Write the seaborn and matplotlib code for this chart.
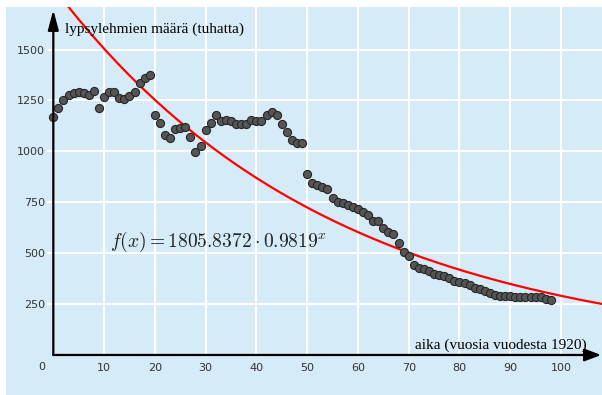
import numpy as np
import pandas as pd
import matplotlib
matplotlib.use("Agg")
import matplotlib.pyplot as plt
import seaborn as sns

# ---- data ----
years = list(range(0, 99))
cows = [1167, 1214, 1252, 1275, 1287, 1293, 1287, 1277, 1298, 1214,
        1265, 1290, 1290, 1264, 1255, 1272, 1293, 1337, 1362, 1373,
        1177, 1139, 1079, 1067, 1112, 1117, 1122, 1071, 999, 1025,
        1107, 1139, 1177, 1151, 1154, 1151, 1133, 1134, 1132, 1152,
        1151, 1149, 1179, 1194, 1180, 1135, 1094, 1056, 1039, 1043,
        887, 846, 833, 823, 815, 770, 753, 746, 737, 729,
        717, 701, 689, 660, 658, 625, 606, 593, 550, 506,
        488, 442, 427, 422, 413, 398, 391, 388, 377, 365,
        358, 352, 342, 331, 323, 316, 306, 293, 290, 290,
        290, 286, 286, 285, 285, 286, 283, 277, 270]
x_ticks = [10, 20, 30, 40, 50, 60, 70, 80, 90, 100]
y_ticks = [250, 500, 750, 1000, 1250, 1500]
fit_a = 1805.8372
fit_b = 0.9819
x_label = "aika (vuosia vuodesta 1920)"
y_label = "lypsylehmien määrä (tuhatta)"

sns.set_style("white")
plt.rcParams['mathtext.fontset'] = 'cm'
plt.rcParams['font.family'] = ['DejaVu Sans']

fig = plt.figure(figsize=(6.02, 3.95), dpi=100)
fig.patch.set_facecolor('white')
ax = fig.add_axes([6 / 602, 0, 596 / 602, 388 / 395])
ax.set_facecolor('#d5ebf7')
XMIN, XMAX = -9.32, 108.08
YMIN, YMAX = -196.5, 1709
ax.set_xlim(XMIN, XMAX)
ax.set_ylim(YMIN, YMAX)
for s in ax.spines.values():
    s.set_visible(False)

# grid
ax.hlines(y_ticks, -1.3, XMAX, colors='white', lw=1.5, zorder=1)
ax.vlines(x_ticks, 0, YMAX, colors='white', lw=1.5, zorder=1)

# fitted curve
curve_x = np.linspace(0, XMAX, 400)
df_fit = pd.DataFrame({'x': curve_x, 'y': fit_a * fit_b ** curve_x})
sns.lineplot(data=df_fit, x='x', y='y', color='#ff0000', lw=1.6, ax=ax, zorder=3)

# data points
df = pd.DataFrame({'year': years, 'cows': cows})
sns.scatterplot(data=df, x='year', y='cows', s=34, color='#555555',
                edgecolor='#262626', linewidth=0.8, ax=ax, zorder=4)

# axes arrows
arrow = dict(arrowstyle='-|>,head_length=1.2,head_width=0.32', lw=1.6,
             color='black', shrinkA=0, shrinkB=0, mutation_scale=10)
ax.annotate('', xy=(0, 1695), xytext=(0, 0), arrowprops=arrow, zorder=5)
arrow2 = dict(arrow)
arrow2['arrowstyle'] = '-|>,head_length=1.0,head_width=0.38'
ax.annotate('', xy=(107.9, 0), xytext=(0, 0), arrowprops=arrow2, zorder=5)

# ticks
ax.set_xticks(x_ticks)
ax.set_xticklabels([str(v) for v in x_ticks])
ax.set_yticks(y_ticks)
ax.set_yticklabels([str(v) for v in y_ticks])
ax.tick_params(axis='x', length=0, pad=-23, labelsize=8, labelcolor='#333333')
ax.tick_params(axis='y', length=0, pad=-28, labelsize=8, labelcolor='#333333')
ax.set_xlabel('')
ax.set_ylabel('')
ax.text(-2.2, -59, '0', ha='center', va='center', fontsize=8, color='#333333')

# labels
ax.text(2.3, 1584, y_label, ha='left', va='baseline', fontsize=11,
        family='Liberation Serif', color='black')
ax.text(105.1, 29.5, x_label, ha='right', va='baseline', fontsize=11,
        family='Liberation Serif', color='black')
ax.text(11.2, 533, r'$f(x) = 1805.8372 \cdot 0.9819^{x}$', ha='left',
        va='baseline', fontsize=14, color='#222222')

fig.savefig('out.png', dpi=100)
